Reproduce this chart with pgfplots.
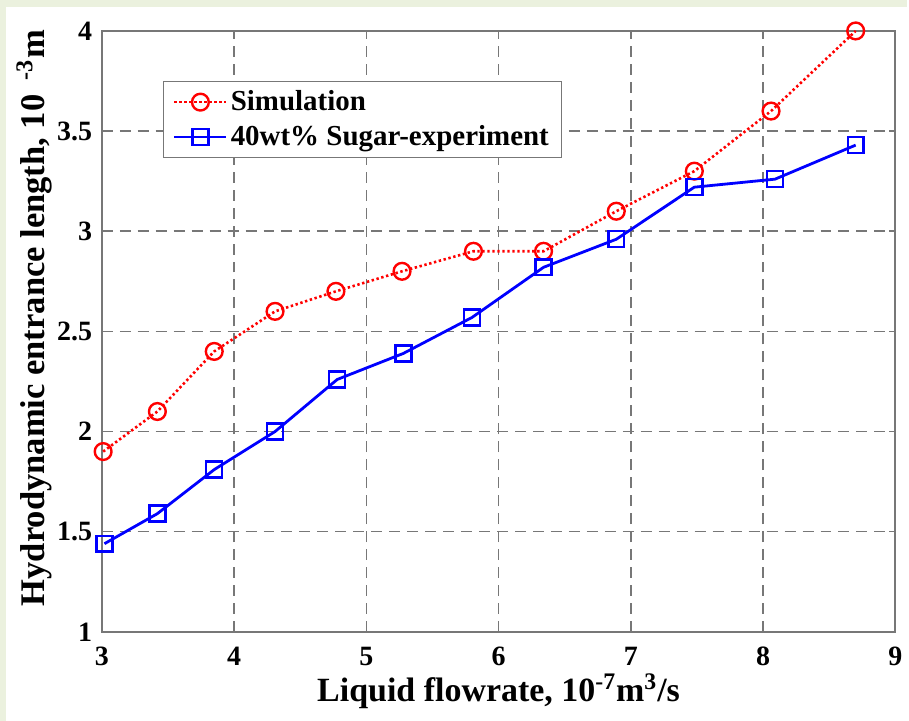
\documentclass[border=0pt]{standalone}
\usepackage{fontspec}
\setmainfont{Liberation Serif}
\usepackage{pgfplots}
\pgfplotsset{compat=1.18}
\definecolor{bggreen}{HTML}{EBF1DE}
\definecolor{axgray}{HTML}{777777}
\begin{document}
\begin{tikzpicture}
\fill[bggreen] (0,0) rectangle (454.5pt,361pt);
\fill[white] (3pt,0) rectangle (454.5pt,357.5pt);
\begin{axis}[
  at={(51pt,44.5pt)}, anchor=south west,
  scale only axis, width=397.5pt, height=301pt,
  xmin=3, xmax=9, ymin=1, ymax=4,
  xtick={3,4,5,6,7,8,9},
  ytick={1,1.5,2,2.5,3,3.5,4},
  clip=false,
  axis line style={axgray, line width=1pt},
  every tick/.style={axgray, line width=0.8pt},
  tick align=inside, major tick length=3pt,
  grid=major,
  major grid style={axgray, line width=0.75pt, dash pattern=on 5.5pt off 3.5pt},
  /pgf/number format/assume math mode=true,
  tick label style={font=\fontsize{14}{16}\selectfont\bfseries},
  xticklabel style={anchor=north, yshift=-4pt},
  yticklabel style={anchor=east, xshift=-1.3pt},
  xlabel={Liquid flowrate, 10\textsuperscript{-7}m\textsuperscript{3}/s},
  ylabel={Hydrodynamic entrance length, 10\, \textsuperscript{-3}m},
  label style={font=\fontsize{17}{20}\selectfont\bfseries},
  xlabel style={at={(axis description cs:0.5,-0.1163)}, anchor=base},
  ylabel style={at={(axis description cs:-0.0717,0.522)}, anchor=base, font=\fontsize{17.3}{20}\selectfont\bfseries},
  legend style={at={(axis description cs:0.0767,0.917)}, anchor=north west,
    draw=axgray, line width=0.8pt, fill=white,
    font=\fontsize{14.5}{16}\selectfont\bfseries,
    inner xsep=4.8pt, inner ysep=3.3pt, row sep=3.5pt,
    nodes={inner xsep=1.5pt, inner ysep=1.2pt}},
  legend cell align=left,
  legend image code/.code={\draw[mark repeat=2,mark phase=2,#1] plot coordinates {(0pt,0pt) (13pt,0pt) (26pt,0pt)};},
]
\addplot[red, line width=1.3pt, dash pattern=on 1.2pt off 1.3pt, mark=o, mark size=4.2pt, mark options={solid, line width=1.2pt}]
coordinates {(3.01,1.9) (3.42,2.1) (3.85,2.4) (4.31,2.6) (4.77,2.7) (5.27,2.8) (5.81,2.9) (6.34,2.9) (6.89,3.1) (7.48,3.3) (8.06,3.6) (8.70,4.0)};
\addlegendentry{Simulation}
\addplot[blue, line width=1.4pt, mark=square, mark size=4pt, mark options={solid, line width=1.2pt}]
coordinates {(3.02,1.44) (3.42,1.59) (3.85,1.81) (4.31,2.0) (4.78,2.26) (5.28,2.39) (5.80,2.57) (6.34,2.82) (6.89,2.96) (7.48,3.22) (8.09,3.26) (8.70,3.43)};
\addlegendentry{40wt\% Sugar-experiment}
\end{axis}
\end{tikzpicture}
\end{document}
